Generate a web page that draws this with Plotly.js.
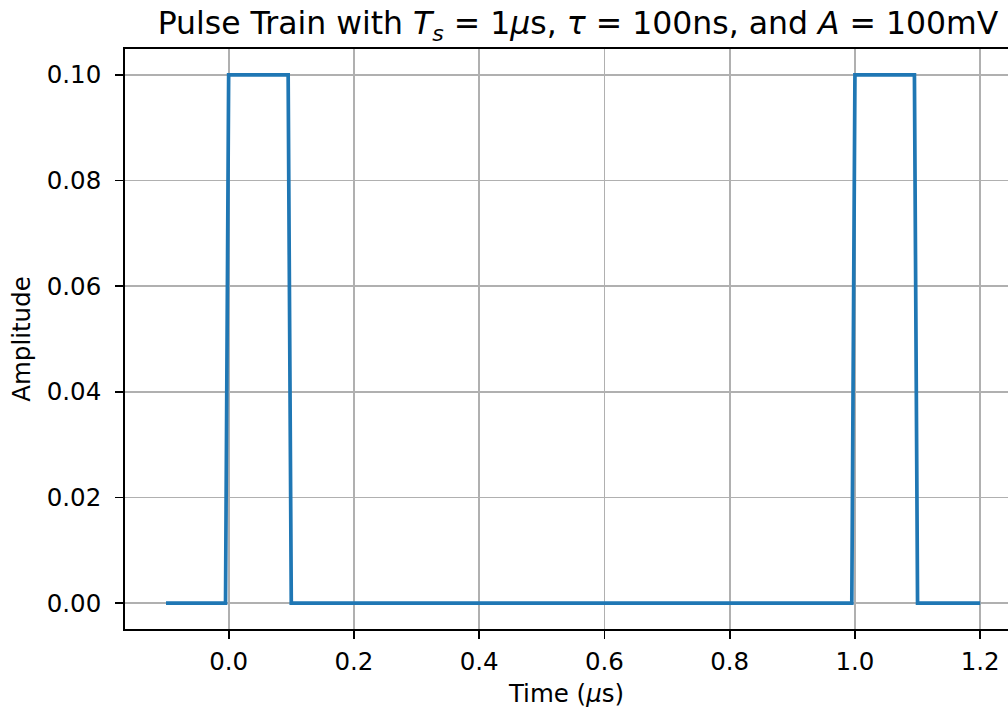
<!DOCTYPE html>
<html>
<head>
<meta charset="utf-8">
<script src="https://cdn.plot.ly/plotly-3.0.1.min.js"></script>
<style>html,body{margin:0;padding:0;background:#fff;}#chart{width:1008px;height:713px;}</style>
</head>
<body>
<div id="chart"></div>
<script>
// Corner points of the sampled pulse train (time in µs, amplitude in V)
const timeUs = [-0.1, -0.005, 0.0, 0.095, 0.1, 0.995, 1.0, 1.095, 1.1, 1.2];
const amplitude = [0, 0, 0.1, 0.1, 0, 0, 0.1, 0.1, 0, 0];
const xTickVals = [0.0, 0.2, 0.4, 0.6, 0.8, 1.0, 1.2];
const xTickText = ["0.0", "0.2", "0.4", "0.6", "0.8", "1.0", "1.2"];
const yTickVals = [0.00, 0.02, 0.04, 0.06, 0.08, 0.10];
const yTickText = ["0.00", "0.02", "0.04", "0.06", "0.08", "0.10"];

const font = "DejaVu Sans, sans-serif";

const trace = {
  x: timeUs, y: amplitude, type: "scatter", mode: "lines",
  line: {color: "#1f77b4", width: 3.7},
  hoverinfo: "skip"
};

const layout = {
  width: 1008, height: 713,
  margin: {l: 125, r: 0, t: 49, b: 84, pad: 0},
  paper_bgcolor: "#ffffff", plot_bgcolor: "#ffffff",
  showlegend: false,
  font: {family: font, color: "#000", size: 24.5},
  title: {
    text: "Pulse Train with <i>T</i><sub><i>s</i></sub> = 1<i>μ</i>s, <i>τ</i> = 100ns, and <i>A</i> = 100mV",
    font: {family: font, size: 31.5, color: "#000"},
    x: 0.513, xref: "paper", xanchor: "center",
    y: 1, yref: "paper", yanchor: "bottom", pad: {b: 15}
  },
  xaxis: {
    range: [-0.1655, 1.2444],
    tickmode: "array", tickvals: xTickVals, ticktext: xTickText,
    ticks: "outside", ticklen: 8, tickwidth: 1.8, tickcolor: "#000",
    ticklabelstandoff: 2,
    showline: true, linecolor: "#000", linewidth: 1.8, mirror: true,
    showgrid: true, gridcolor: "#b0b0b0", gridwidth: 1.8,
    zeroline: false,
    tickfont: {family: font, size: 24.5, color: "#000"},
    title: {text: "Time (<i>μ</i>s)", font: {family: font, size: 24.5, color: "#000"}, standoff: 10}
  },
  yaxis: {
    range: [-0.0049, 0.1049],
    tickmode: "array", tickvals: yTickVals, ticktext: yTickText,
    ticks: "outside", ticklen: 8, tickwidth: 1.8, tickcolor: "#000",
    ticklabelstandoff: 9,
    showline: true, linecolor: "#000", linewidth: 1.8, mirror: false,
    showgrid: true, gridcolor: "#b0b0b0", gridwidth: 1.8,
    zeroline: false,
    tickfont: {family: font, size: 24.5, color: "#000"},
    title: {text: "Amplitude", font: {family: font, size: 24.5, color: "#000"}, standoff: 9}
  }
};

Plotly.newPlot("chart", [trace], layout, {displayModeBar: false, staticPlot: true});
</script>
</body>
</html>
